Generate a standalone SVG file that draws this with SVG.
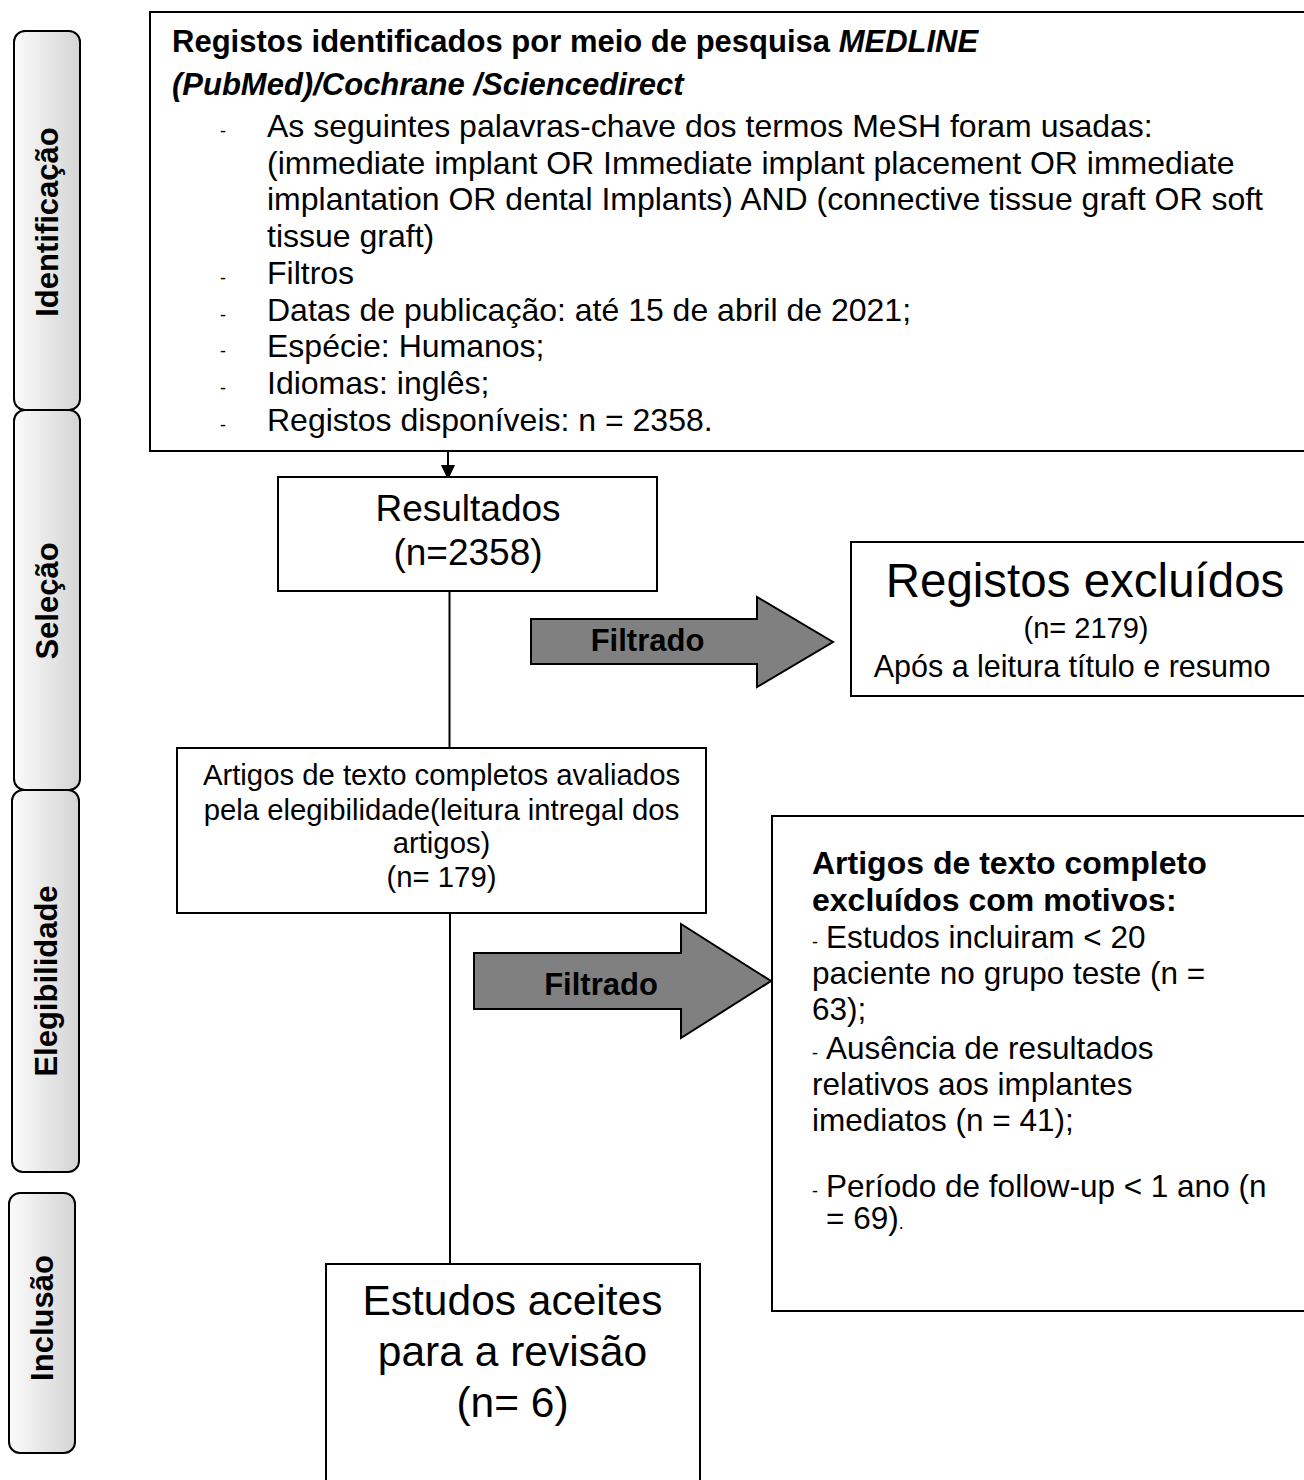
<svg xmlns="http://www.w3.org/2000/svg" width="1304" height="1480" viewBox="0 0 1304 1480">
<defs>
<linearGradient id="sg" x1="0" y1="0" x2="1" y2="0">
<stop offset="0" stop-color="#fbfbfb"/>
<stop offset="1" stop-color="#d4d4d4"/>
</linearGradient>
</defs>
<style>
text{font-family:"Liberation Sans",Arial,sans-serif;fill:#000}
.box{fill:#fff;stroke:#000;stroke-width:2}
.side{fill:url(#sg);stroke:#000;stroke-width:2}
.lbl{font-weight:bold;font-size:31px;text-anchor:middle}
.body{font-size:32px}
.dash{font-size:18px}
.fl{fill:#808080;stroke:#000;stroke-width:2}
.ft{font-weight:bold;font-size:31px;text-anchor:middle}
.conn{stroke:#000;stroke-width:2;fill:none}
.c{text-anchor:middle}
.ex{font-size:31.5px}
</style>
<rect x="0" y="0" width="1304" height="1480" fill="#fff"/>

<g id="side-identificacao">
<rect class="side" x="14" y="31" width="66" height="379" rx="11"/>
<text class="lbl" transform="translate(47,222) rotate(-90)" x="0" y="11">Identificação</text>
</g>
<g id="side-selecao">
<rect class="side" x="14" y="410" width="66" height="380" rx="11"/>
<text class="lbl" transform="translate(47,601) rotate(-90)" x="0" y="11">Seleção</text>
</g>
<g id="side-elegibilidade">
<rect class="side" x="12" y="790" width="67" height="382" rx="11"/>
<text class="lbl" transform="translate(46,981) rotate(-90)" x="0" y="11">Elegibilidade</text>
</g>
<g id="side-inclusao">
<rect class="side" x="9" y="1193" width="66" height="260" rx="11"/>
<text class="lbl" transform="translate(42,1318) rotate(-90)" x="0" y="11">Inclusão</text>
</g>

<g id="connectors">
<line class="conn" x1="448" y1="443" x2="448" y2="467"/>
<polygon points="441,465 455,465 448,480" fill="#000"/>
<line class="conn" x1="449.5" y1="563" x2="449.5" y2="748"/>
<line class="conn" x1="450" y1="890" x2="450" y2="1264"/>
</g>

<g id="node-identificacao">
<rect class="box" x="150" y="12" width="1170" height="439"/>
<text x="172" y="52" font-size="31" font-weight="bold">Registos identificados por meio de pesquisa <tspan font-style="italic">MEDLINE</tspan></text>
<text x="172" y="95" font-size="31" font-weight="bold" font-style="italic">(PubMed)/Cochrane /Sciencedirect</text>
<text class="dash" x="220" y="137">-</text>
<text class="body" x="267" y="137">As seguintes palavras-chave dos termos MeSH foram usadas:</text>
<text class="body" x="267" y="174">(immediate implant OR Immediate implant placement OR immediate</text>
<text class="body" x="267" y="210">implantation OR dental Implants) AND (connective tissue graft OR soft</text>
<text class="body" x="267" y="247">tissue graft)</text>
<text class="dash" x="220" y="284">-</text>
<text class="body" x="267" y="284">Filtros</text>
<text class="dash" x="220" y="321">-</text>
<text class="body" x="267" y="321">Datas de publicação: até 15 de abril de 2021;</text>
<text class="dash" x="220" y="357">-</text>
<text class="body" x="267" y="357">Espécie: Humanos;</text>
<text class="dash" x="220" y="394">-</text>
<text class="body" x="267" y="394">Idiomas: inglês;</text>
<text class="dash" x="220" y="431">-</text>
<text class="body" x="267" y="431">Registos disponíveis: n = 2358.</text>
</g>

<g id="node-resultados">
<rect class="box" x="278" y="477" width="379" height="114"/>
<text class="c" x="468" y="521" font-size="37">Resultados</text>
<text class="c" x="468" y="565" font-size="37">(n=2358)</text>
</g>

<g id="arrow-filtrado-1">
<polygon class="fl" points="531,619 757,619 757,597 833,642 757,687 757,664 531,664"/>
<text class="ft" x="647.5" y="651">Filtrado</text>
</g>

<g id="node-registos-excluidos">
<rect class="box" x="851" y="542" width="470" height="154"/>
<text class="c" x="1085" y="597" font-size="47.5">Registos excluídos</text>
<text class="c" x="1086" y="638" font-size="29">(n= 2179)</text>
<text class="c" x="1072" y="677" font-size="30.5">Após a leitura título e resumo</text>
</g>

<g id="node-artigos-avaliados">
<rect class="box" x="177" y="748" width="529" height="165"/>
<text class="c" x="441.5" y="785" font-size="29.3">Artigos de texto completos avaliados</text>
<text class="c" x="441.5" y="820" font-size="29.3">pela elegibilidade(leitura intregal dos</text>
<text class="c" x="441.5" y="853" font-size="29.3">artigos)</text>
<text class="c" x="441.5" y="887" font-size="29.3">(n= 179)</text>
</g>

<g id="arrow-filtrado-2">
<polygon class="fl" points="474,953 681,953 681,924 771,981 681,1038 681,1009 474,1009"/>
<text class="ft" x="601" y="995">Filtrado</text>
</g>

<g id="node-artigos-excluidos">
<rect class="box" x="772" y="816" width="560" height="495"/>
<text x="812" y="874" font-size="32" font-weight="bold">Artigos de texto completo</text>
<text x="812" y="911" font-size="32" font-weight="bold">excluídos com motivos:</text>
<text x="812" y="948"><tspan class="dash">-</tspan><tspan class="ex" x="826">Estudos incluiram &lt; 20</tspan></text>
<text class="ex" x="812" y="984">paciente no grupo teste (n =</text>
<text class="ex" x="812" y="1020">63);</text>
<text x="812" y="1059"><tspan class="dash">-</tspan><tspan class="ex" x="826">Ausência de resultados</tspan></text>
<text class="ex" x="812" y="1095">relativos aos implantes</text>
<text class="ex" x="812" y="1131">imediatos (n = 41);</text>
<text x="812" y="1197"><tspan class="dash">-</tspan><tspan class="ex" x="826">Período de follow-up &lt; 1 ano (n</tspan></text>
<text class="ex" x="826" y="1229">= 69)<tspan font-size="18">.</tspan></text>
</g>

<g id="node-estudos-aceites">
<rect class="box" x="326" y="1264" width="374" height="240"/>
<text class="c" x="512.5" y="1315" font-size="42.5">Estudos aceites</text>
<text class="c" x="512.5" y="1366" font-size="42.5">para a revisão</text>
<text class="c" x="512.5" y="1417" font-size="42.5">(n= 6)</text>
</g>
</svg>
